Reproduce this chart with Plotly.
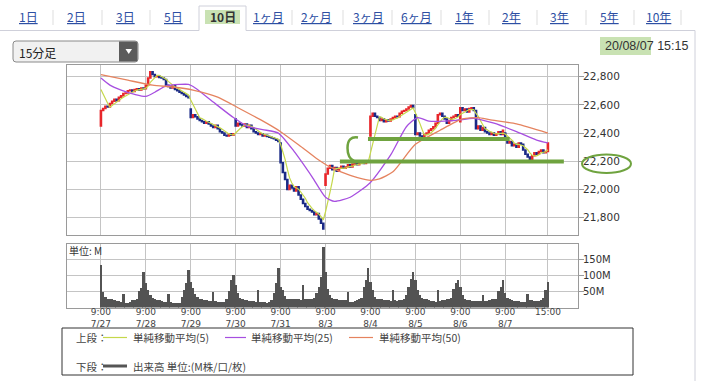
import plotly.graph_objects as go
import pandas as pd

W, H = 704, 381
def px(x): return x / W
def py(y): return 1 - y / H

JP = "Noto Sans CJK JP"
NUM = "DejaVu Sans"

# ---------------- data ----------------
days = ["7/27", "7/28", "7/29", "7/30", "7/31", "8/3", "8/4", "8/5", "8/6", "8/7"]
bars_per_day = 20

day_open = [22450, 22715, 22570, 22500, 22330, 22030, 22380, 22530, 22480, 22400]

c_0727 = [22560, 22575, 22590, 22585, 22610, 22625, 22640, 22630, 22655, 22665, 22680, 22685, 22700, 22705, 22695, 22710, 22715, 22705, 22720, 22715]
c_0728 = [22740, 22790, 22835, 22815, 22800, 22805, 22795, 22790, 22780, 22740, 22730, 22720, 22735, 22710, 22700, 22690, 22680, 22670, 22660, 22650]
c_0729 = [22510, 22530, 22515, 22500, 22490, 22480, 22470, 22480, 22465, 22450, 22440, 22455, 22430, 22410, 22400, 22385, 22380, 22395, 22385, 22395]
c_0730 = [22450, 22470, 22460, 22450, 22465, 22440, 22455, 22430, 22410, 22400, 22390, 22395, 22380, 22385, 22375, 22370, 22365, 22360, 22350, 22340]
c_0731 = [22190, 22120, 22070, 22000, 22030, 22010, 21990, 22020, 21960, 21930, 21900, 21880, 21860, 21850, 21840, 21820, 21830, 21790, 21760, 21720]
c_0803 = [22110, 22150, 22170, 22140, 22155, 22130, 22150, 22165, 22150, 22160, 22175, 22160, 22180, 22185, 22175, 22190, 22195, 22185, 22200, 22195]
c_0804 = [22520, 22540, 22520, 22510, 22490, 22500, 22480, 22495, 22485, 22500, 22510, 22520, 22515, 22540, 22555, 22560, 22570, 22585, 22595, 22580]
c_0805 = [22390, 22400, 22380, 22375, 22390, 22400, 22420, 22430, 22445, 22470, 22530, 22540, 22520, 22500, 22470, 22490, 22510, 22520, 22530, 22520]
c_0806 = [22580, 22560, 22570, 22550, 22575, 22580, 22560, 22430, 22450, 22420, 22440, 22410, 22400, 22390, 22400, 22385, 22395, 22410, 22390, 22420]
c_0807 = [22350, 22330, 22340, 22310, 22320, 22300, 22330, 22320, 22280, 22250, 22230, 22215, 22240, 22260, 22250, 22270, 22280, 22260, 22270, 22330]
daily_closes = [c_0727, c_0728, c_0729, c_0730, c_0731, c_0803, c_0804, c_0805, c_0806, c_0807]

prev_closes = [22750, 22745, 22740, 22751]   # last bars before 7/27 (for MA5)

v_0727 = [133, 48, 33, 28, 27, 25, 22, 20, 19, 17, 43, 15, 14, 18, 22, 24, 27, 50, 60, 110]
v_0728 = [75, 54, 38, 30, 27, 24, 22, 20, 18, 17, 43, 17, 15, 14, 13, 15, 33, 54, 75, 117]
v_0729 = [80, 60, 42, 32, 27, 25, 22, 22, 20, 19, 48, 20, 18, 17, 16, 18, 25, 50, 85, 101]
v_0730 = [70, 45, 30, 25, 23, 22, 20, 20, 19, 18, 56, 17, 16, 16, 15, 17, 22, 45, 75, 122]
v_0731 = [65, 54, 35, 28, 27, 26, 25, 27, 25, 24, 70, 28, 27, 27, 28, 30, 45, 64, 95, 187]
v_0803 = [110, 58, 38, 30, 27, 25, 24, 22, 22, 22, 48, 17, 18, 20, 22, 25, 30, 64, 85, 122]
v_0804 = [80, 54, 33, 28, 27, 25, 24, 22, 22, 21, 56, 22, 21, 22, 24, 27, 38, 64, 90, 112]
v_0805 = [85, 54, 38, 30, 27, 25, 22, 20, 19, 18, 54, 20, 22, 24, 26, 27, 30, 58, 75, 85]
v_0806 = [64, 38, 27, 24, 22, 21, 20, 20, 19, 20, 38, 19, 20, 22, 25, 27, 26, 50, 64, 85]
v_0807 = [45, 30, 25, 22, 21, 20, 19, 18, 18, 17, 43, 23, 22, 21, 20, 21, 22, 30, 55, 80]
daily_vols = [v_0727, v_0728, v_0729, v_0730, v_0731, v_0803, v_0804, v_0805, v_0806, v_0807]

ma25_idx = [0, 4, 9, 15, 20, 24, 29, 35, 39, 42, 50, 59, 65, 72, 79, 86, 94, 100, 104, 111, 120, 129, 136, 141, 146, 158, 166, 175, 185, 194, 199]
ma25_val = [22790, 22740, 22705, 22675, 22660, 22690, 22735, 22745, 22745, 22720, 22620, 22510, 22450, 22425, 22400, 22270, 22090, 21945, 21915, 21945, 22050, 22245, 22445, 22510, 22485, 22490, 22505, 22470, 22410, 22350, 22330]
ma50_idx = [0, 12, 23, 32, 41, 52, 61, 71, 80, 89, 96, 102, 111, 120, 124, 130, 140, 151, 161, 168, 173, 185, 199]
ma50_val = [22815, 22775, 22740, 22727, 22705, 22655, 22580, 22495, 22410, 22305, 22220, 22160, 22100, 22065, 22075, 22125, 22320, 22420, 22500, 22510, 22495, 22465, 22400]

price_ticks = [21800, 22000, 22200, 22400, 22600, 22800]
vol_ticks = [50, 100, 150]
tick_idx = [0, 20, 40, 60, 80, 100, 120, 140, 160, 180, 199]
tick_text = ["9:00<br>" + d for d in days] + ["15:00"]

# hand-drawn marks (price levels and index spans)
mark_levels = [22358, 22199]
mark_spans = [(118.9, 182.0), (106.4, 206.1)]

# ---------------- derived ----------------
closes = [c for d in daily_closes for c in d]
vols = [v for d in daily_vols for v in d]
idx = list(range(len(closes)))
opens = []
for d, dc in enumerate(daily_closes):
    for b in range(len(dc)):
        opens.append(day_open[d] if b == 0 else dc[b - 1])
highs = [max(o, c) for o, c in zip(opens, closes)]
lows = [min(o, c) for o, c in zip(opens, closes)]
ma5 = pd.Series(prev_closes + closes).rolling(5).mean().tolist()[len(prev_closes):]

RED = "#e8262a"
BLUE = "#1b2a86"
C5 = "#c5d84a"
C25 = "#a74fe0"
C50 = "#e5835f"
GRID = "#c4c4c4"
BORDER = "#9a9a9a"
GREEN = "#6fa33f"

fig = go.Figure()
fig.add_trace(go.Scatter(x=idx, y=ma5, mode="lines", line=dict(color=C5, width=1.2), xaxis="x", yaxis="y"))
fig.add_trace(go.Scatter(x=ma25_idx, y=ma25_val, mode="lines", line=dict(color=C25, width=1.3, shape="spline", smoothing=0.6), xaxis="x", yaxis="y"))
fig.add_trace(go.Scatter(x=ma50_idx, y=ma50_val, mode="lines", line=dict(color=C50, width=1.3, shape="spline", smoothing=0.6), xaxis="x", yaxis="y"))
fig.add_trace(go.Candlestick(
    x=idx, open=opens, high=highs, low=lows, close=closes,
    increasing=dict(line=dict(color=RED, width=1.5), fillcolor=RED),
    decreasing=dict(line=dict(color=BLUE, width=1.5), fillcolor=BLUE),
    whiskerwidth=0, xaxis="x", yaxis="y"))
fig.add_trace(go.Bar(x=idx, y=vols, width=1.08, marker=dict(color="#535353", line=dict(width=0)), xaxis="x2", yaxis="y2"))

xr = [-15.1, 212.4]
axis_common = dict(showgrid=True, gridcolor=GRID, gridwidth=1, showline=True, mirror=True,
                   linecolor=BORDER, linewidth=1, zeroline=False)
fig.update_layout(
    width=W, height=H, margin=dict(l=0, r=0, t=0, b=0),
    paper_bgcolor="white", plot_bgcolor="white", showlegend=False, bargap=0,
    xaxis=dict(domain=[px(67), px(578)], range=xr, tickvals=tick_idx, showticklabels=False,
               rangeslider=dict(visible=False), anchor="y", **axis_common),
    yaxis=dict(domain=[py(235), py(65)], range=[21677, 22883], side="right", anchor="x",
               tickvals=price_ticks, ticktext=[f"{v:,}" for v in price_ticks],
               ticks="outside", ticklen=5, tickcolor=BORDER, ticklabelstandoff=-3,
               tickfont=dict(family=NUM, size=10.5, color="#333"), **axis_common),
    xaxis2=dict(domain=[px(67), px(578)], range=xr, tickvals=tick_idx, ticktext=tick_text,
                anchor="y2", ticks="", ticklabelstandoff=-4,
                tickfont=dict(family=NUM, size=9, color="#444"), **axis_common),
    yaxis2=dict(domain=[py(307.5), py(244)], range=[0, 197.6], side="right", anchor="x2",
                tickvals=vol_ticks, ticktext=[f"{v}M" for v in vol_ticks],
                ticks="outside", ticklen=5, tickcolor=BORDER, ticklabelstandoff=-3,
                tickfont=dict(family=NUM, size=10, color="#333"), **axis_common),
)

shapes = []
ann = []

def prect(x0, y0, x1, y1, **kw):
    shapes.append(dict(type="rect", xref="paper", yref="paper", x0=px(x0), x1=px(x1), y0=py(y1), y1=py(y0), **kw))

def pline(x0, y0, x1, y1, color, width=1):
    shapes.append(dict(type="line", xref="paper", yref="paper", x0=px(x0), x1=px(x1), y0=py(y0), y1=py(y1),
                       line=dict(color=color, width=width)))

def ppath(pts_cmd, **kw):
    shapes.append(dict(type="path", xref="paper", yref="paper", path=pts_cmd, **kw))

def text(x, y, s, size=12, color="#333", family=JP, xanchor="left", **fontkw):
    ann.append(dict(x=px(x), y=py(y), xref="paper", yref="paper", text=s, showarrow=False, borderpad=0,
                    xanchor=xanchor, yanchor="middle", font=dict(family=family, size=size, color=color, **fontkw)))

# frame & tabs
FR = "#cfd0da"
pline(0, 30.5, 199, 30.5, FR)
pline(246, 30.5, 695, 30.5, FR)
pline(695, 30.5, 695, 381, FR)
pline(199, 6, 199, 30.5, FR)
pline(246, 6, 246, 30.5, FR)
pline(199, 6, 246, 6, FR)
prect(205, 10, 240, 24, fillcolor="#c9e2b3", line=dict(width=0), layer="below")

tabs = [("1日", 28.5), ("2日", 76.5), ("3日", 125), ("5日", 173.5), ("1ヶ月", 268), ("2ヶ月", 316),
        ("3ヶ月", 368), ("6ヶ月", 416), ("1年", 464), ("2年", 511.5), ("3年", 559.5), ("5年", 609), ("10年", 658.5)]
for s, x in tabs:
    text(x, 17, s, size=12, color="#2d4fa3", xanchor="center", lineposition="under")
text(222.5, 17, "10日", size=12, color="#333", xanchor="center", weight="bold")
for x in [53, 102, 150, 292, 343, 392, 441, 489, 537, 586, 634, 681]:
    pline(x, 10, x, 25, "#dddddd")

# dropdown
def rrect(x0, y0, x1, y1, r):
    return (f"M {px(x0+r)},{py(y0)} L {px(x1-r)},{py(y0)} Q {px(x1)},{py(y0)} {px(x1)},{py(y0+r)} "
            f"L {px(x1)},{py(y1-r)} Q {px(x1)},{py(y1)} {px(x1-r)},{py(y1)} L {px(x0+r)},{py(y1)} "
            f"Q {px(x0)},{py(y1)} {px(x0)},{py(y1-r)} L {px(x0)},{py(y0+r)} Q {px(x0)},{py(y0)} {px(x0+r)},{py(y0)} Z")
ppath(rrect(13, 41, 138, 62, 3), fillcolor="#f1f1f1", line=dict(color="#8a8a8a", width=1))
ppath(f"M {px(119)},{py(41.5)} L {px(135)},{py(41.5)} Q {px(137.5)},{py(41.5)} {px(137.5)},{py(44)} "
      f"L {px(137.5)},{py(59)} Q {px(137.5)},{py(61.5)} {px(135)},{py(61.5)} L {px(119)},{py(61.5)} Z",
      fillcolor="#5b5b5b", line=dict(width=0))
ppath(f"M {px(125.5)},{py(49)} L {px(132)},{py(49)} L {px(128.75)},{py(54)} Z", fillcolor="white", line=dict(width=0))
text(18, 52, "15分足", size=12, color="#222")

# timestamp
prect(600, 37, 651, 55, fillcolor="#c9e2b3", line=dict(width=0), layer="below")
text(689, 46, "20/08/07 15:15", size=12.5, color="#333", family="Liberation Sans", xanchor="right")

# volume unit label
text(68, 250.5, "単位: M", size=10, color="#333")

# legend box
LY1, LY2 = 337.5, 366
prect(62, 328, 633, 375, fillcolor="rgba(0,0,0,0)", line=dict(color="#333", width=1))
text(75, LY1, "上段：", size=10.5, color="#444")
pline(103, LY1, 127, LY1, C5, 1.2)
text(132, LY1, "単純移動平均(5)", size=10.5, color="#444")
pline(225, LY1, 246, LY1, C25, 1.2)
text(250, LY1, "単純移動平均(25)", size=10.5, color="#444")
pline(349, LY1, 373, LY1, C50, 1.2)
text(378, LY1, "単純移動平均(50)", size=10.5, color="#444")
text(75, LY2, "下段：", size=10.5, color="#444")
pline(103, LY2, 127, LY2, "#555", 3)
text(132, LY2, "出来高 単位:(M株/口/枚)", size=10.5, color="#444")

# hand-drawn green marks
for lvl, (a, b) in zip(mark_levels, mark_spans):
    shapes.append(dict(type="line", xref="x", yref="y", x0=a, x1=b, y0=lvl, y1=lvl,
                       line=dict(color=GREEN, width=4)))
ppath(f"M {px(358)},{py(137.5)} Q {px(347.5)},{py(136)} {px(347.5)},{py(148)} Q {px(347.5)},{py(158)} {px(354)},{py(161)}",
      line=dict(color=GREEN, width=2.5))
shapes.append(dict(type="circle", xref="paper", yref="paper", x0=px(582), x1=px(631), y0=py(173), y1=py(154.5),
                   line=dict(color=GREEN, width=2)))

fig.update_layout(shapes=shapes, annotations=ann)
fig.write_html("out.html", config={"displayModeBar": False},
               post_script="document.body.style.margin='0px';document.body.style.padding='0px';")
